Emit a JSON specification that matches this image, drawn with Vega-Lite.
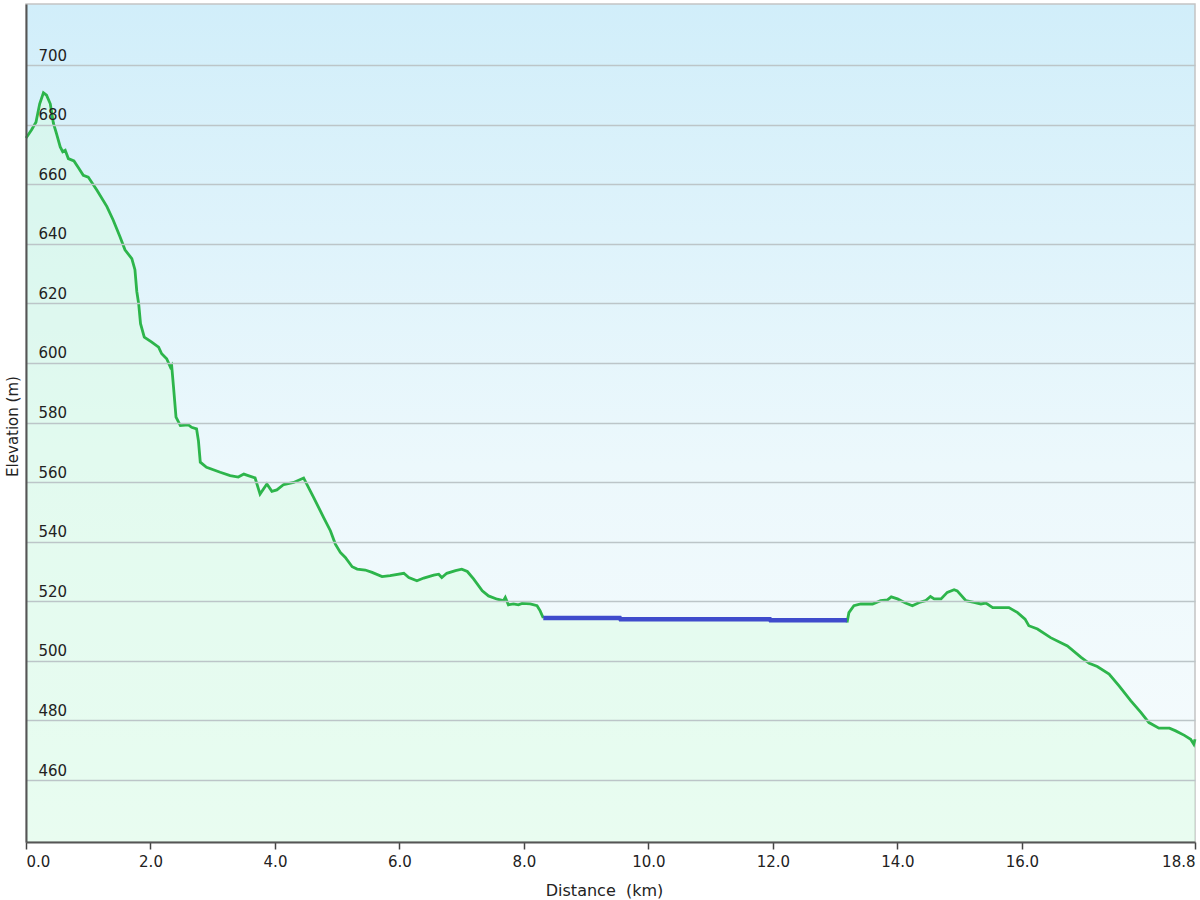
{
  "$schema": "https://vega.github.io/schema/vega-lite/v6.json",
  "width": 1169,
  "height": 838,
  "autosize": {"type": "none"},
  "padding": {"left": 26, "top": 4, "right": 5, "bottom": 58},
  "background": "white",
  "config": {
    "font": "DejaVu Sans",
    "view": {
      "stroke": "#c4c4c4",
      "strokeWidth": 1.5,
      "fill": {"gradient": "linear", "x1": 0, "y1": 0, "x2": 0, "y2": 1,
        "stops": [
          {"offset": 0, "color": "#d1eefa"},
          {"offset": 0.55, "color": "#ecf8fc"},
          {"offset": 1, "color": "#f7fcfd"}
        ]}
    }
  },
  "data": {"values": [
    {"d": 0.00, "e": 675.5, "s": "a"},
    {"d": 0.02, "e": 676.1, "s": "a"},
    {"d": 0.09, "e": 678.3, "s": "a"},
    {"d": 0.16, "e": 680.8, "s": "a"},
    {"d": 0.22, "e": 687.0, "s": "a"},
    {"d": 0.28, "e": 690.7, "s": "a"},
    {"d": 0.33, "e": 689.9, "s": "a"},
    {"d": 0.39, "e": 687.0, "s": "a"},
    {"d": 0.44, "e": 680.5, "s": "a"},
    {"d": 0.49, "e": 677.0, "s": "a"},
    {"d": 0.55, "e": 672.5, "s": "a"},
    {"d": 0.59, "e": 670.9, "s": "a"},
    {"d": 0.63, "e": 671.4, "s": "a"},
    {"d": 0.68, "e": 668.6, "s": "a"},
    {"d": 0.77, "e": 667.8, "s": "a"},
    {"d": 0.84, "e": 665.6, "s": "a"},
    {"d": 0.92, "e": 663.0, "s": "a"},
    {"d": 1.00, "e": 662.4, "s": "a"},
    {"d": 1.14, "e": 658.0, "s": "a"},
    {"d": 1.30, "e": 652.5, "s": "a"},
    {"d": 1.40, "e": 648.0, "s": "a"},
    {"d": 1.51, "e": 642.4, "s": "a"},
    {"d": 1.59, "e": 638.0, "s": "a"},
    {"d": 1.70, "e": 635.0, "s": "a"},
    {"d": 1.75, "e": 631.3, "s": "a"},
    {"d": 1.78, "e": 624.0, "s": "a"},
    {"d": 1.81, "e": 619.9, "s": "a"},
    {"d": 1.84, "e": 613.2, "s": "a"},
    {"d": 1.90, "e": 608.7, "s": "a"},
    {"d": 2.02, "e": 607.0, "s": "a"},
    {"d": 2.13, "e": 605.3, "s": "a"},
    {"d": 2.18, "e": 603.1, "s": "a"},
    {"d": 2.26, "e": 601.4, "s": "a"},
    {"d": 2.32, "e": 598.6, "s": "a"},
    {"d": 2.34, "e": 599.2, "s": "a"},
    {"d": 2.37, "e": 591.9, "s": "a"},
    {"d": 2.41, "e": 581.8, "s": "a"},
    {"d": 2.48, "e": 579.0, "s": "a"},
    {"d": 2.61, "e": 579.2, "s": "a"},
    {"d": 2.66, "e": 578.4, "s": "a"},
    {"d": 2.74, "e": 577.9, "s": "a"},
    {"d": 2.77, "e": 573.9, "s": "a"},
    {"d": 2.80, "e": 566.7, "s": "a"},
    {"d": 2.90, "e": 565.0, "s": "a"},
    {"d": 3.12, "e": 563.3, "s": "a"},
    {"d": 3.28, "e": 562.2, "s": "a"},
    {"d": 3.41, "e": 561.7, "s": "a"},
    {"d": 3.50, "e": 562.7, "s": "a"},
    {"d": 3.57, "e": 562.2, "s": "a"},
    {"d": 3.68, "e": 561.4, "s": "a"},
    {"d": 3.76, "e": 556.0, "s": "a"},
    {"d": 3.87, "e": 559.4, "s": "a"},
    {"d": 3.95, "e": 556.9, "s": "a"},
    {"d": 4.03, "e": 557.4, "s": "a"},
    {"d": 4.14, "e": 559.2, "s": "a"},
    {"d": 4.30, "e": 559.9, "s": "a"},
    {"d": 4.46, "e": 561.4, "s": "a"},
    {"d": 4.62, "e": 554.9, "s": "a"},
    {"d": 4.78, "e": 548.2, "s": "a"},
    {"d": 4.89, "e": 543.7, "s": "a"},
    {"d": 4.97, "e": 539.2, "s": "a"},
    {"d": 5.05, "e": 536.4, "s": "a"},
    {"d": 5.13, "e": 534.7, "s": "a"},
    {"d": 5.24, "e": 531.6, "s": "a"},
    {"d": 5.32, "e": 530.8, "s": "a"},
    {"d": 5.45, "e": 530.5, "s": "a"},
    {"d": 5.56, "e": 529.7, "s": "a"},
    {"d": 5.72, "e": 528.3, "s": "a"},
    {"d": 5.85, "e": 528.6, "s": "a"},
    {"d": 6.07, "e": 529.4, "s": "a"},
    {"d": 6.15, "e": 528.0, "s": "a"},
    {"d": 6.28, "e": 526.9, "s": "a"},
    {"d": 6.39, "e": 527.8, "s": "a"},
    {"d": 6.55, "e": 528.8, "s": "a"},
    {"d": 6.63, "e": 529.1, "s": "a"},
    {"d": 6.68, "e": 528.0, "s": "a"},
    {"d": 6.76, "e": 529.4, "s": "a"},
    {"d": 6.90, "e": 530.3, "s": "a"},
    {"d": 7.00, "e": 530.8, "s": "a"},
    {"d": 7.09, "e": 530.0, "s": "a"},
    {"d": 7.19, "e": 527.5, "s": "a"},
    {"d": 7.33, "e": 523.5, "s": "a"},
    {"d": 7.43, "e": 521.8, "s": "a"},
    {"d": 7.57, "e": 520.7, "s": "a"},
    {"d": 7.67, "e": 520.2, "s": "a"},
    {"d": 7.70, "e": 521.3, "s": "a"},
    {"d": 7.75, "e": 518.8, "s": "a"},
    {"d": 7.83, "e": 519.1, "s": "a"},
    {"d": 7.91, "e": 518.8, "s": "a"},
    {"d": 7.97, "e": 519.3, "s": "a"},
    {"d": 8.10, "e": 519.1, "s": "a"},
    {"d": 8.21, "e": 518.5, "s": "a"},
    {"d": 8.26, "e": 516.8, "s": "a"},
    {"d": 8.31, "e": 514.4, "s": "a"},
    {"d": 8.31, "e": 514.4, "s": "b"},
    {"d": 9.54, "e": 514.4, "s": "b"},
    {"d": 9.55, "e": 514.0, "s": "b"},
    {"d": 11.95, "e": 514.0, "s": "b"},
    {"d": 11.96, "e": 513.6, "s": "b"},
    {"d": 13.19, "e": 513.6, "s": "b"},
    {"d": 13.19, "e": 512.9, "s": "c"},
    {"d": 13.22, "e": 516.2, "s": "c"},
    {"d": 13.30, "e": 518.5, "s": "c"},
    {"d": 13.41, "e": 519.1, "s": "c"},
    {"d": 13.60, "e": 519.1, "s": "c"},
    {"d": 13.73, "e": 520.2, "s": "c"},
    {"d": 13.84, "e": 520.5, "s": "c"},
    {"d": 13.90, "e": 521.5, "s": "c"},
    {"d": 14.00, "e": 520.8, "s": "c"},
    {"d": 14.13, "e": 519.4, "s": "c"},
    {"d": 14.24, "e": 518.5, "s": "c"},
    {"d": 14.35, "e": 519.6, "s": "c"},
    {"d": 14.45, "e": 520.2, "s": "c"},
    {"d": 14.53, "e": 521.6, "s": "c"},
    {"d": 14.59, "e": 520.8, "s": "c"},
    {"d": 14.70, "e": 520.8, "s": "c"},
    {"d": 14.80, "e": 523.0, "s": "c"},
    {"d": 14.91, "e": 523.9, "s": "c"},
    {"d": 14.96, "e": 523.5, "s": "c"},
    {"d": 15.10, "e": 520.2, "s": "c"},
    {"d": 15.23, "e": 519.6, "s": "c"},
    {"d": 15.34, "e": 519.1, "s": "c"},
    {"d": 15.42, "e": 519.4, "s": "c"},
    {"d": 15.53, "e": 517.9, "s": "c"},
    {"d": 15.66, "e": 517.9, "s": "c"},
    {"d": 15.79, "e": 517.9, "s": "c"},
    {"d": 15.93, "e": 516.2, "s": "c"},
    {"d": 16.05, "e": 514.0, "s": "c"},
    {"d": 16.11, "e": 511.8, "s": "c"},
    {"d": 16.25, "e": 510.7, "s": "c"},
    {"d": 16.46, "e": 507.8, "s": "c"},
    {"d": 16.73, "e": 505.0, "s": "c"},
    {"d": 16.95, "e": 501.2, "s": "c"},
    {"d": 17.08, "e": 499.2, "s": "c"},
    {"d": 17.21, "e": 498.1, "s": "c"},
    {"d": 17.40, "e": 495.6, "s": "c"},
    {"d": 17.56, "e": 491.6, "s": "c"},
    {"d": 17.75, "e": 486.6, "s": "c"},
    {"d": 17.91, "e": 482.7, "s": "c"},
    {"d": 18.04, "e": 479.3, "s": "c"},
    {"d": 18.20, "e": 477.4, "s": "c"},
    {"d": 18.37, "e": 477.4, "s": "c"},
    {"d": 18.47, "e": 476.5, "s": "c"},
    {"d": 18.61, "e": 475.0, "s": "c"},
    {"d": 18.71, "e": 473.7, "s": "c"},
    {"d": 18.76, "e": 472.0, "s": "c"},
    {"d": 18.78, "e": 473.7, "s": "c"}
  ]},
  "encoding": {
    "x": {
      "field": "d", "type": "quantitative",
      "scale": {"domain": [0, 18.78], "nice": false, "zero": false},
      "axis": {
        "values": [0, 2, 4, 6, 8, 10, 12, 14, 16, 18.78],
        "format": ".1f",
        "grid": false,
        "zindex": 1,
        "domainColor": "#555555", "domainWidth": 2,
        "tickColor": "#444444", "tickSize": 7, "tickWidth": 1.5,
        "labelFontSize": 15, "labelColor": "#222222", "labelPadding": 5,
        "title": "Distance \u00a0(km)",
        "titleFontSize": 16, "titleFontWeight": "normal", "titleColor": "#222222",
        "titleX": 578, "titleY": 48, "titleBaseline": "middle", "titleAlign": "center"
      }
    },
    "y": {
      "field": "e", "type": "quantitative",
      "scale": {"domain": [439.2, 720.5], "nice": false, "zero": false},
      "axis": {
        "values": [460, 480, 500, 520, 540, 560, 580, 600, 620, 640, 660, 680, 700],
        "ticks": false,
        "zindex": 1,
        "domainColor": "#555555", "domainWidth": 2,
        "gridColor": "#bcc5c8", "gridWidth": 1.5,
        "labelAlign": "left", "labelPadding": -12, "labelBaseline": "alphabetic", "labelOffset": -5,
        "labelFontSize": 15, "labelColor": "#222222",
        "title": "Elevation (m)",
        "titleFontSize": 15, "titleFontWeight": "normal", "titleColor": "#222222",
        "titleX": -14, "titleY": 422, "titleBaseline": "middle", "titleAlign": "center", "titleAngle": -90
      }
    }
  },
  "layer": [
    {"mark": {"type": "area", "fill": "#d8fde0", "opacity": 0.45, "clip": true},
     "encoding": {"y2": {"datum": 439.2}}},
    {"transform": [{"filter": "datum.s != 'b'"}],
     "mark": {"type": "line", "color": "#2db54b", "strokeWidth": 2.8},
     "encoding": {"detail": {"field": "s"}}},
    {"transform": [{"filter": "datum.s == 'b'"}],
     "mark": {"type": "line", "color": "#3f4bcc", "strokeWidth": 4.5}}
  ]
}
